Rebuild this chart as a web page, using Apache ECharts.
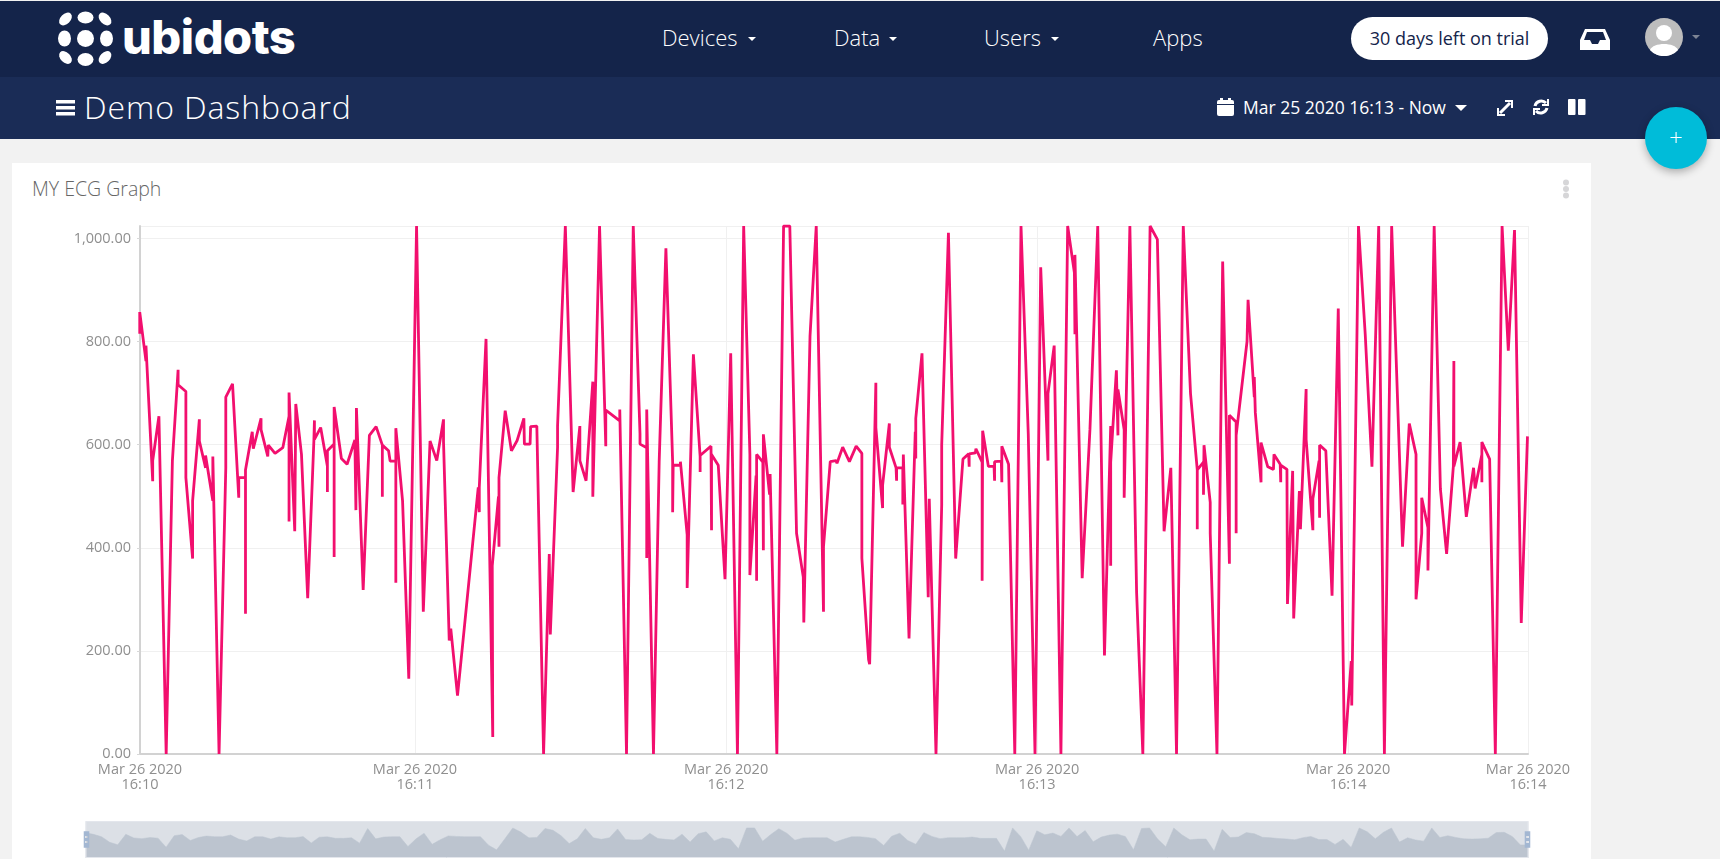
<![CDATA[<!DOCTYPE html>
<html lang="en">

<head>
  <meta charset="UTF-8">
  <script src="https://cdn.jsdelivr.net/npm/echarts@6.0.0/dist/echarts.min.js"></script>
  <style>
    html, body { margin: 0; height: 100%; background: #f2f2f2; overflow: hidden; font-family: "Open Sans", sans-serif; }
    .abs { position: absolute; white-space: nowrap; }
    #topbar { left: 0; top: 1px; width: 1720px; height: 76px; background: #14244a; }
    #subbar { left: 0; top: 77px; width: 1720px; height: 62px; background: #1a2c56; }
    #card { left: 12px; top: 163px; width: 1579px; height: 696px; background: #fff; }
    .nav { top: 22px; color: #fff; font-size: 22px; font-weight: 300; line-height: 30px; }
    .caret { width: 0; height: 0; border-left: 4px solid transparent; border-right: 4px solid transparent; border-top: 4px solid #fff; }
    #pill { left: 1351px; top: 17px; width: 197px; height: 43px; border-radius: 22px; background: #fff; color: #14244a; font-size: 18px; line-height: 43px; text-align: center; }
    #title { left: 84px; top: 84px; color: #fff; font-size: 32px; font-weight: 300; line-height: 46px; letter-spacing: .9px; }
    #range { left: 1243px; top: 94px; color: #fff; font-size: 17.5px; line-height: 26px; }
    #fab { left: 1645px; top: 107px; width: 62px; height: 62px; border-radius: 50%; background: #00bcd9; color: #fff; font-size: 24px; line-height: 60px; text-align: center; font-weight: 300; box-shadow: 0 3px 8px rgba(0,0,0,.3); z-index: 5; }
    #cardTitle { left: 32px; top: 176px; color: #666; font-size: 19.5px; font-weight: 300; line-height: 26px; }
    #brand { left: 122px; top: 7px; color: #fff; font-family: Inter, sans-serif; font-size: 47px; font-weight: 800; line-height: 60px; letter-spacing: -.5px; }
    #chart { position: absolute; left: 0; top: 0; width: 1720px; height: 859px; }
  </style>
</head>

<body>
  <div class="abs" id="topbar"></div>
  <div class="abs" id="subbar"></div>
  <div class="abs" id="card"></div>

  <svg class="abs" style="left:0;top:0" width="120" height="77" fill="#fff">
    <ellipse cx="85.5" cy="17.5" rx="8" ry="6"/><ellipse cx="85.5" cy="38.5" rx="8.5" ry="8.5"/><ellipse cx="85.5" cy="59.5" rx="8" ry="6.5"/>
    <ellipse cx="64.5" cy="38.5" rx="6.5" ry="8"/><ellipse cx="106.5" cy="38.5" rx="6.5" ry="8"/>
    <ellipse cx="65.5" cy="19" rx="7.5" ry="5" transform="rotate(-45 65.5 19)"/><ellipse cx="105" cy="19" rx="7.5" ry="5" transform="rotate(45 105 19)"/>
    <ellipse cx="65.5" cy="57.5" rx="7.5" ry="5" transform="rotate(45 65.5 57.5)"/><ellipse cx="105" cy="57.5" rx="7.5" ry="5" transform="rotate(-45 105 57.5)"/>
  </svg>
  <div class="abs" id="brand">ubidots</div>

  <div class="abs nav" style="left:662px">Devices</div><div class="abs caret" style="left:748px;top:37px"></div>
  <div class="abs nav" style="left:834px">Data</div><div class="abs caret" style="left:889px;top:37px"></div>
  <div class="abs nav" style="left:984px">Users</div><div class="abs caret" style="left:1051px;top:37px"></div>
  <div class="abs nav" style="left:1153px">Apps</div>
  <div class="abs" id="pill">30 days left on trial</div>

  <svg class="abs" style="left:1579px;top:28px" width="32" height="24" fill="#fff">
    <path d="M6 1H26L31 12V22H1V12ZM8 4L5 12H11L13 16H19L21 12H27L24 4Z"/>
  </svg>
  <svg class="abs" style="left:1645px;top:18px" width="38" height="38">
    <circle cx="19" cy="19" r="19" fill="#bdbdbd"/><circle cx="19" cy="15" r="8" fill="#fff"/><path d="M5 32C8 24 30 24 33 32A19 19 0 0 1 5 32Z" fill="#fff"/>
  </svg>
  <div class="abs caret" style="left:1692px;top:35px;border-top-color:#7d8494"></div>

  <svg class="abs" style="left:56px;top:100px" width="19" height="16" fill="#fff">
    <rect width="19" height="3.5"/><rect y="6" width="19" height="3.5"/><rect y="12" width="19" height="3.5"/>
  </svg>
  <div class="abs" id="title">Demo Dashboard</div>

  <svg class="abs" style="left:1217px;top:98px" width="17" height="18" fill="#fff">
    <rect y="2" width="17" height="16" rx="2"/><rect x="3" width="3" height="4"/><rect x="11" width="3" height="4"/><rect y="6" width="17" height="1" fill="#1a2c56"/>
  </svg>
  <div class="abs" id="range">Mar 25 2020 16:13 - Now</div>
  <div class="abs caret" style="left:1455px;top:105px;border-width:6px 6px 0"></div>
  <svg class="abs" style="left:1496px;top:99px" width="18" height="18" fill="none" stroke="#fff" stroke-width="3">
    <path d="M4 14L14 4"/><path d="M9 2H16V9M2 9V16H9" stroke-width="2"/>
  </svg>
  <svg class="abs" style="left:1532px;top:98px" width="18" height="18" fill="none" stroke="#fff" stroke-width="3">
    <path d="M3 8A6.5 6.5 0 0 1 14 5M15 10A6.5 6.5 0 0 1 4 13"/><path d="M16 1V7H10M2 17V11H8" stroke-width="2"/>
  </svg>
  <svg class="abs" style="left:1568px;top:99px" width="18" height="17" fill="#fff">
    <rect width="7.5" height="16" rx="1"/><rect x="10" width="7.5" height="16" rx="1"/>
  </svg>
  <div class="abs" id="fab">+</div>

  <div class="abs" id="cardTitle">MY ECG Graph</div>
  <svg class="abs" style="left:1562px;top:179px" width="8" height="20" fill="#d6d6d8">
    <circle cx="4" cy="3.5" r="3"/><circle cx="4" cy="10" r="3"/><circle cx="4" cy="16.5" r="3"/>
  </svg>

  <div id="chart"></div>

  <script type="text/javascript">

    // seconds after 16:10:00, read off the picture
    const sampleSeconds = [
      6.9, 6.9, 8.1, 8.1, 8.4, 9.4, 9.4, 10.6, 12.0, 13.2, 14.3, 14.3, 15.8, 15.8, 17.1, 17.1, 18.4, 18.4, 19.6, 19.6,
      21.0, 21.0, 22.2, 23.5, 23.5, 24.8, 26.0, 26.0, 27.3, 27.3, 27.3, 28.6, 28.8, 30.3, 30.3, 31.6, 31.7, 33.0, 34.5, 35.7,
      35.7, 35.7, 36.8, 37.0, 38.1, 39.3, 40.5, 40.6, 40.6, 41.8, 43.1, 43.1, 43.1, 44.4, 44.4, 44.4, 45.8, 46.9, 48.4, 48.6,
      48.7, 50.0, 51.2, 52.5, 53.7, 53.7, 53.7, 54.9, 55.2, 56.3, 56.3, 56.3, 57.6, 58.8, 60.3, 61.6, 62.9, 64.2, 65.5, 65.5,
      66.6, 66.9, 68.2, 69.6, 72.2, 72.4, 72.4, 73.7, 75.0, 74.9, 76.1, 76.2, 76.2, 77.4, 78.6, 79.7, 80.0, 81.0, 81.1,
      82.2, 82.3, 83.5, 84.8, 85.9, 86.1, 87.5, 87.5, 89.0, 90.5, 91.8, 91.8, 93.0, 94.3, 94.3, 95.6, 96.8, 96.8, 99.5, 99.5,
      100.8, 102.1, 103.4, 103.4, 104.7, 104.7, 104.7, 106.0, 107.1, 108.4, 109.7, 109.7, 109.8, 111.2, 111.2, 112.5, 112.5, 113.7, 115.0, 115.0,
      115.0, 117.1, 117.2, 117.2, 118.5, 119.8, 120.9, 122.2, 123.4, 124.6, 124.6, 125.8, 125.9, 125.9, 127.1, 127.2, 127.2, 128.4, 128.5, 129.8,
      131.1, 132.3, 133.6, 134.9, 135.0, 136.2, 137.4, 138.8, 138.8, 140.1, 141.2, 141.4, 142.5, 143.8, 145.1, 146.2, 146.2, 147.5, 147.7, 148.9,
      148.9, 150.2, 150.2, 151.5, 151.5, 152.8, 152.9, 152.9, 154.1, 154.1, 154.2, 155.3, 156.5, 156.6, 156.6, 157.8, 159.0, 159.2, 160.5, 161.6,
      161.6, 162.9, 164.3, 165.7, 166.8, 166.9, 166.9, 168.1, 168.2, 169.4, 169.4, 169.5, 170.6, 171.7, 171.8, 171.8, 173.1, 173.2, 173.2, 174.5,
      175.7, 176.9, 178.3, 179.6, 180.7, 182.1, 182.1, 183.3, 184.6, 185.9, 187.2, 187.3, 187.3, 188.7, 190.2, 191.7, 193.0, 194.2, 194.2, 194.2,
      195.3, 195.6, 195.6, 196.8, 196.8, 197.9, 199.2, 200.4, 201.8, 203.2, 204.5, 205.8, 206.9, 208.2, 209.6, 210.9, 210.9, 210.9, 212.1, 212.1,
      212.2, 213.4, 213.4, 214.7, 215.8, 217.1, 217.1, 218.4, 218.4, 218.4, 220.5, 220.7, 221.9, 221.9, 222.1, 223.2, 223.2, 224.5, 225.6, 225.7,
      226.9, 227.0, 227.0, 228.2, 228.3, 229.3, 229.5, 230.6, 230.8, 231.9, 231.9, 233.2, 233.2, 234.4, 234.5, 234.5, 235.7, 236.9, 238.1, 239.3,
      240.6, 240.7, 242.0, 243.3, 244.6, 245.9, 247.0, 248.4, 250.5, 251.8, 253.1, 253.1, 254.2, 254.2, 255.4, 255.4, 256.6, 257.8, 259.0, 260.3,
      260.4, 260.4, 261.6, 262.8, 264.2, 264.5, 265.8, 265.8, 265.8, 267.3, 268.4, 269.7, 270.9, 272.1, 273.4, 274.6
    ];

    const sampleValues = [
      815, 857, 762, 792, 792, 529, 569, 655, 0, 569, 745, 716, 703, 536, 379, 491, 649, 607, 555, 579,
      491, 577, 0, 555, 692, 718, 497, 536, 536, 272, 551, 625, 592, 651, 629, 577, 599, 583, 594, 655,
      451, 701, 432, 679, 581, 302, 610, 647, 610, 633, 558, 508, 588, 601, 382, 673, 573, 562, 609, 473,
      671, 318, 618, 635, 599, 499, 599, 588, 568, 568, 332, 632, 491, 146, 1024, 276, 607, 569, 649, 605,
      220, 243, 113, 254, 517, 469, 517, 805, 33, 365, 499, 402, 536, 666, 588, 608, 610, 651, 601,
      601, 635, 636, 0, 388, 232, 595, 636, 1024, 508, 636, 569, 530, 722, 499, 1024, 597, 667, 646, 668,
      0, 1024, 621, 601, 594, 380, 668, 0, 566, 981, 566, 469, 560, 560, 567, 425, 322, 775, 577, 547,
      579, 597, 434, 581, 560, 339, 777, 0, 1024, 581, 347, 540, 336, 581, 566, 395, 620, 503, 543, 0,
      1024, 1024, 428, 343, 255, 811, 1024, 276, 402, 567, 569, 564, 595, 567, 597, 583, 380, 183, 174, 720,
      633, 477, 521, 641, 595, 555, 530, 555, 555, 484, 581, 224, 625, 573, 651, 777, 304, 495, 0, 483,
      599, 1011, 379, 572, 582, 557, 582, 584, 592, 566, 336, 627, 558, 558, 530, 567, 568, 527, 597, 562,
      0, 1024, 621, 0, 944, 569, 699, 792, 0, 1024, 933, 814, 968, 341, 630, 1024, 191, 636, 365, 566,
      744, 618, 707, 629, 497, 1024, 313, 0, 1024, 998, 432, 555, 0, 1024, 699, 551, 436, 551, 566, 503,
      599, 488, 428, 0, 955, 369, 657, 644, 428, 618, 800, 881, 692, 731, 662, 527, 604, 557, 552, 581,
      562, 527, 560, 552, 291, 549, 263, 510, 436, 708, 610, 434, 495, 569, 458, 599, 588, 307, 864, 0,
      180, 94, 1024, 814, 557, 1024, 0, 1024, 402, 641, 581, 300, 428, 497, 439, 356, 1024, 514, 388, 558,
      762, 558, 605, 460, 555, 515, 581, 527, 605, 572, 0, 1024, 782, 1016, 254, 616
    ];

    // the smoother outline in the range slider, read off the slider at even spacing
    const overviewValues = [
      809, 740, 635, 390, 280, 745, 580, 550, 600, 570, 170, 680, 730, 470, 600, 665, 635, 635, 710, 530,
      450, 635, 635, 530, 630, 592, 592, 640, 360, 615, 630, 565, 563, 590, 350, 1000, 540, 620, 635, 635,
      200, 540, 790, 300, 500, 670, 650, 635, 635, 635, 260, 55, 530, 1024, 840, 585, 606, 1000, 920, 679,
      330, 540, 1000, 590, 520, 590, 980, 510, 492, 500, 785, 555, 519, 495, 750, 400, 770, 850, 450, 590,
      520, 100, 1024, 1024, 440, 730, 990, 790, 480, 580, 590, 590, 592, 400, 520, 630, 635, 605, 550, 250,
      660, 790, 470, 300, 820, 650, 550, 592, 592, 592, 620, 563, 563, 563, 0, 1024, 650, 40, 900, 720,
      800, 650, 1024, 640, 910, 410, 620, 708, 750, 640, 60, 1000, 1024, 530, 190, 1024, 720, 500, 530, 530,
      0, 965, 600, 620, 820, 765, 610, 590, 555, 535, 500, 590, 650, 510, 510, 295, 520, 160, 1024, 853,
      540, 830, 1024, 400, 590, 490, 440, 1024, 600, 680, 600, 540, 530, 540, 570, 820, 830, 640, 273, 273
    ];

    const axisStart = 6.95;
    const axisEnd = 274.7;
    const xTickSeconds = [6.95, 60, 120, 180, 240, 274.7];
    const yTicks = [0, 200, 400, 600, 800, 1000];
    const yMax = 1024;

    const baseTime = new Date(2020, 2, 26, 16, 10, 0).getTime();
    const toTime = s => baseTime + s * 1000;

    function createEcgChart() {
        const chart = echarts.init(document.getElementById('chart'));
        const labelFont = '"Open Sans", sans-serif';
        const overviewStep = (axisEnd - axisStart) / (overviewValues.length - 1);

        chart.setOption({
            animation: false,
            backgroundColor: 'transparent',
            grid: { left: 140, right: 192, top: 226, bottom: 105 },
            xAxis: {
                type: 'value',
                min: axisStart,
                max: axisEnd,
                axisLine: { lineStyle: { color: '#d2d2d2', width: 2 } },
                axisTick: { show: false, customValues: xTickSeconds },
                splitLine: { show: true, lineStyle: { color: '#f0f0f0' } },
                axisLabel: {
                    customValues: xTickSeconds,
                    color: '#8f8f8f',
                    fontFamily: labelFont,
                    fontSize: 14.5,
                    lineHeight: 15,
                    margin: 8,
                    formatter: value => echarts.time.format(toTime(value), '{MMM} {d} {yyyy}\n{HH}:{mm}', false)
                }
            },
            yAxis: {
                type: 'value',
                min: 0,
                max: yMax,
                interval: yTicks[1] - yTicks[0],
                axisLine: { show: true, lineStyle: { color: '#d2d2d2', width: 2 } },
                axisTick: { show: true, length: 3, lineStyle: { color: '#d8d8d8' } },
                splitLine: { show: true, lineStyle: { color: '#f0f0f0' } },
                axisLabel: {
                    showMaxLabel: false,
                    color: '#8f8f8f',
                    fontFamily: labelFont,
                    fontSize: 14.5,
                    margin: 9,
                    formatter: value => value.toLocaleString('en-US', { minimumFractionDigits: 2, maximumFractionDigits: 2 })
                }
            },
            dataZoom: [{
                type: 'slider',
                xAxisIndex: 0,
                filterMode: 'none',
                start: 0,
                end: 100,
                left: 83,
                right: 194,
                bottom: 1,
                height: 37,
                showDetail: false,
                brushSelect: false,
                moveHandleSize: 0,
                backgroundColor: 'transparent',
                borderColor: '#e3e6ec',
                fillerColor: 'rgba(47,69,104,0.17)',
                handleIcon: 'path://M0,0H8V24H0ZM2,7V10H6V7ZM2,14V17H6V14Z',
                handleSize: '45%',
                handleStyle: { color: '#a3b7d2', borderWidth: 0 },
                dataBackground: {
                    lineStyle: { color: '#d9dee4', width: 0.5 },
                    areaStyle: { color: '#d9dee4', opacity: 1 }
                },
                selectedDataBackground: {
                    lineStyle: { color: '#d9dee4', width: 0.5 },
                    areaStyle: { color: '#d9dee4', opacity: 1 }
                }
            }],
            series: [{
                // first series feeds the slider outline, it draws nothing on the plot
                name: 'overview',
                type: 'line',
                symbol: 'none',
                showSymbol: false,
                silent: true,
                lineStyle: { opacity: 0 },
                data: overviewValues.map((v, i) => [axisStart + i * overviewStep, v])
            }, {
                name: 'ECG',
                type: 'line',
                symbol: 'none',
                showSymbol: false,
                lineStyle: { color: '#f20f6e', width: 2.8 },
                data: sampleSeconds.map((s, i) => [s, sampleValues[i]])
            }]
        });
    }
    createEcgChart();
  </script>
</body>

</html>
]]>
